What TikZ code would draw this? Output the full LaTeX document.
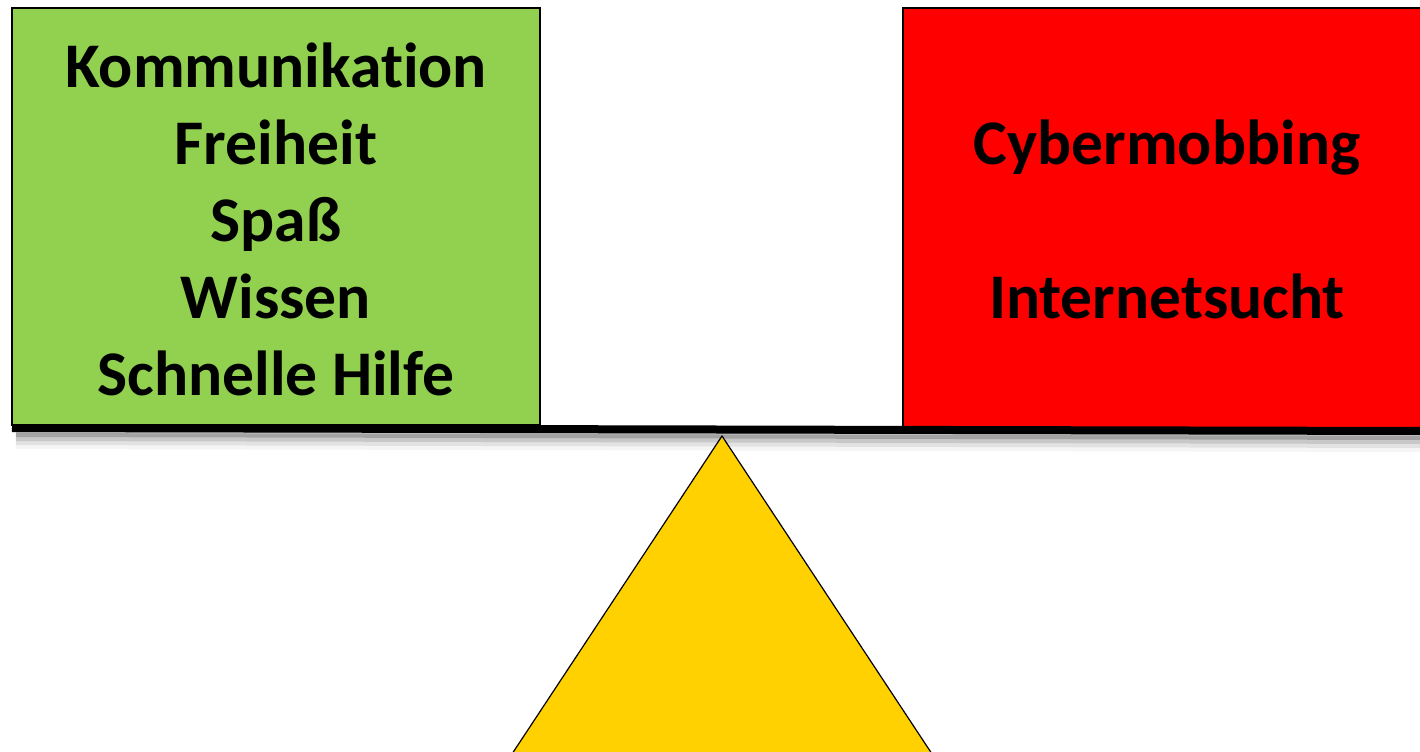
\documentclass[tikz,border=0pt]{standalone}
\usepackage{fontspec}
\setmainfont{Carlito}[Ligatures=CommonOff]
\usepackage{xcolor}
\usepackage{tikz}
\usetikzlibrary{positioning}
\usetikzlibrary{calc}

\definecolor{plusgreen}{HTML}{92D050}
\definecolor{minusred}{HTML}{FF0000}
\definecolor{fulcrum}{HTML}{FFD100}

\begin{document}
\begin{tikzpicture}[x=0.5pt,y=-0.5pt]

\useasboundingbox (0,0) rectangle (1420,751);
\clip (0,0) rectangle (1420,751);

\coordinate(A) at (12, 8);
\coordinate(B) at (540, 425);
\coordinate(C) at (903, 8);
\coordinate(D) at (1431, 428);

\coordinate(E) at (12, 428);
\coordinate(F) at (1430, 431);

\coordinate(G) at (722, 436);
\coordinate(H) at (508, 760);
\coordinate(I) at (936, 760);

% shadow under the beam
\foreach \s/\o in {5/0.25, 9/0.15, 13/0.08, 17/0.04}
  \draw [black, opacity=\o, line width=4pt] ($(E)+(4,\s)$) -- ($(F)+(0,\s)$);

\draw [black, line width=0.8pt, fill=plusgreen] (A) rectangle (B);
\draw [black, line width=0.8pt, fill=minusred] (C) rectangle (D);

\draw [black, line width=0.6pt, fill=fulcrum] (G) -- (H) -- (I) -- cycle;
\draw [black, line width=4pt] (E) -- (F);

\node[align=center, font=\bfseries\fontsize{31.8}{38.5}\selectfont] (pro) at (276, 219)
  {Kommunikation\\Freiheit\\Spaß\\Wissen\\Schnelle Hilfe};
\node[align=center, font=\bfseries\fontsize{31.8}{38.5}\selectfont] (contra) at (1167, 219)
  {Cybermobbing\\[38.5pt]Internetsucht};

\end{tikzpicture}
\end{document}
